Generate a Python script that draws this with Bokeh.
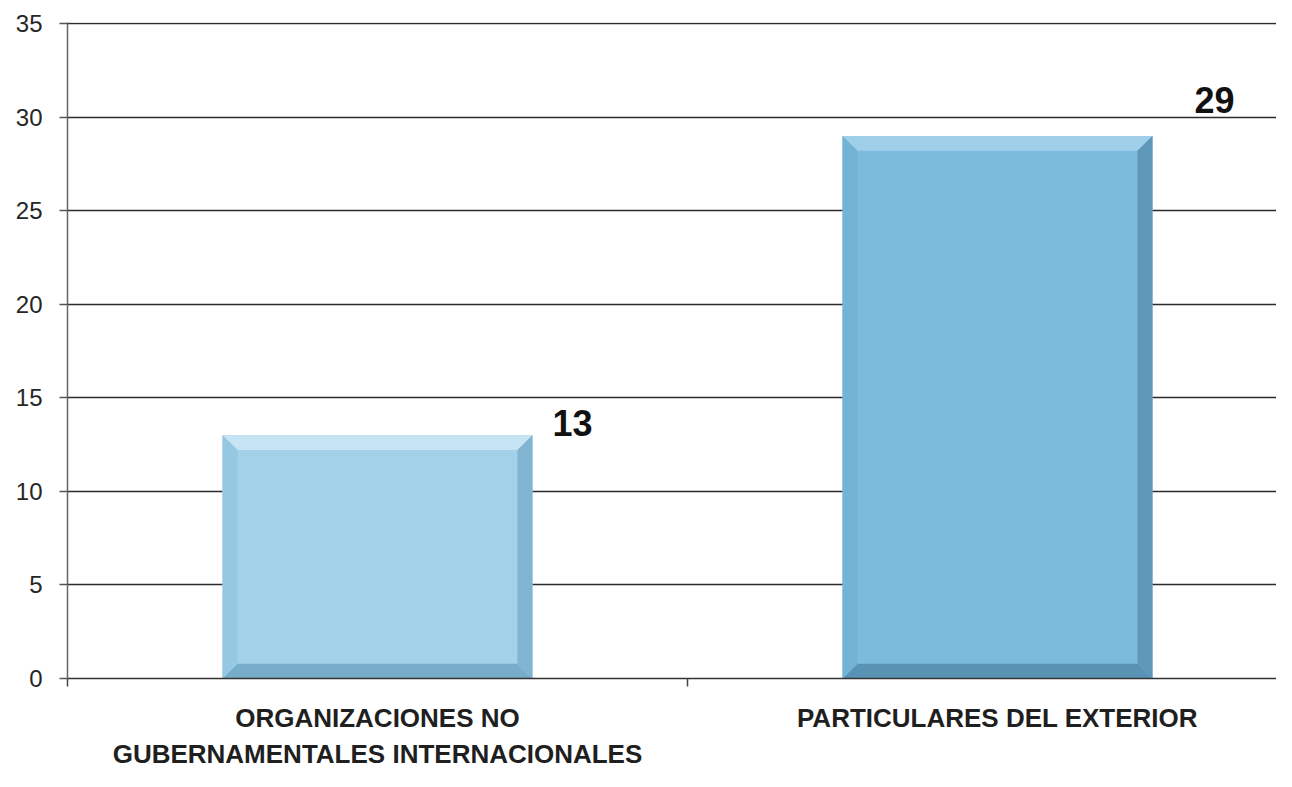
from bokeh.plotting import figure
from bokeh.models import Range1d, FixedTicker, ColumnDataSource
from bokeh.core.properties import value
from bokeh.embed import file_html
from bokeh.resources import INLINE

# ---- data ----
categories = ["ORGANIZACIONES NO GUBERNAMENTALES INTERNACIONALES", "PARTICULARES DEL EXTERIOR"]
values = [13, 29]
label_lines = [["ORGANIZACIONES NO", "GUBERNAMENTALES INTERNACIONALES"], ["PARTICULARES DEL EXTERIOR"]]
y_ticks = [0, 5, 10, 15, 20, 25, 30, 35]

# ---- layout / style ----
W, H = 1276, 771
BL, BR, BT, BB = 67, 0, 22, 87
X_END = 1.95
Y_END = 35.06
BAR_W = 0.5
BEVEL_PX = 15
FONT = "Liberation Sans"
main_colors = ["#A3D1E9", "#7DBBDD"]
top_colors = ["#C6E4F3", "#A0CFE9"]
bottom_colors = ["#77ADCA", "#5893B4"]
left_colors = ["#96C8E3", "#74B3D6"]
right_colors = ["#80B4D0", "#5D98B8"]
label_dx = [195, 217]
label_dy = [-12, -36]

centers = [i + 0.5 for i in range(len(categories))]

p = figure(width=W, height=H, x_range=Range1d(0, X_END), y_range=Range1d(0, Y_END),
           output_backend="svg", toolbar_location=None,
           min_border_left=BL, min_border_right=BR, min_border_top=BT, min_border_bottom=BB)
p.outline_line_color = None
p.background_fill_color = "white"
p.border_fill_color = "white"

# grid
p.xgrid.visible = False
p.ygrid.ticker = FixedTicker(ticks=y_ticks)
p.ygrid.grid_line_color = "#2b2b2b"
p.ygrid.grid_line_width = 1.5

# y axis
ya = p.yaxis[0]
ya.ticker = FixedTicker(ticks=y_ticks)
ya.major_tick_out = 8
ya.major_tick_in = 0
ya.minor_tick_line_color = None
ya.axis_line_color = "#666666"
ya.axis_line_width = 1.5
ya.major_tick_line_color = "#555555"
ya.major_tick_line_width = 1.5
ya.major_label_text_font = FONT
ya.major_label_text_font_size = "24px"
ya.major_label_text_color = "#262626"
ya.major_label_standoff = 17

# x axis: category names at bar centres, boundary ticks as minor ticks
xa = p.xaxis[0]
xa.ticker = FixedTicker(ticks=centers, minor_ticks=[0, 1, 2])
xa.major_label_overrides = {c: "\n".join(lines) for c, lines in zip(centers, label_lines)}
xa.major_tick_line_color = None
xa.major_tick_out = 0
xa.major_tick_in = 0
xa.minor_tick_out = 8
xa.minor_tick_in = 0
xa.minor_tick_line_color = "#444444"
xa.minor_tick_line_width = 1.5
xa.axis_line_color = "#333333"
xa.axis_line_width = 1.5
xa.major_label_text_font = FONT
xa.major_label_text_font_style = "bold"
xa.major_label_text_font_size = "26px"
xa.major_label_text_color = "#1f1f1f"
xa.major_label_text_align = "center"
xa.major_label_standoff = 16

# bars
lefts = [c - BAR_W / 2 for c in centers]
rights = [c + BAR_W / 2 for c in centers]
p.quad(left=lefts, right=rights, bottom=0, top=values, fill_color=main_colors, line_color=None)

# bevel edges (derived from the bar rectangles)
frame_w = W - BL - BR
frame_h = H - BT - BB
dx = BEVEL_PX * X_END / frame_w
dy = BEVEL_PX * Y_END / frame_h
xs, ys, cols = [], [], []
for i, (l, r, t) in enumerate(zip(lefts, rights, values)):
    xs += [[l, r, r - dx, l + dx], [l, r, r - dx, l + dx], [l, l, l + dx, l + dx], [r, r, r - dx, r - dx]]
    ys += [[t, t, t - dy, t - dy], [0, 0, dy, dy], [0, t, t - dy, dy], [0, t, t - dy, dy]]
    cols += [top_colors[i], bottom_colors[i], left_colors[i], right_colors[i]]
p.patches(xs=xs, ys=ys, fill_color=cols, line_color=None)

# data labels
src = ColumnDataSource(dict(x=centers, y=values, t=[str(v) for v in values], dx=label_dx, dy=label_dy))
p.text(x="x", y="y", text="t", x_offset="dx", y_offset="dy", source=src,
       text_font=value(FONT), text_font_style="bold", text_font_size="36px",
       text_align="center", text_baseline="middle", text_color="#111111")

open("out.html", "w").write(file_html(p, INLINE))
